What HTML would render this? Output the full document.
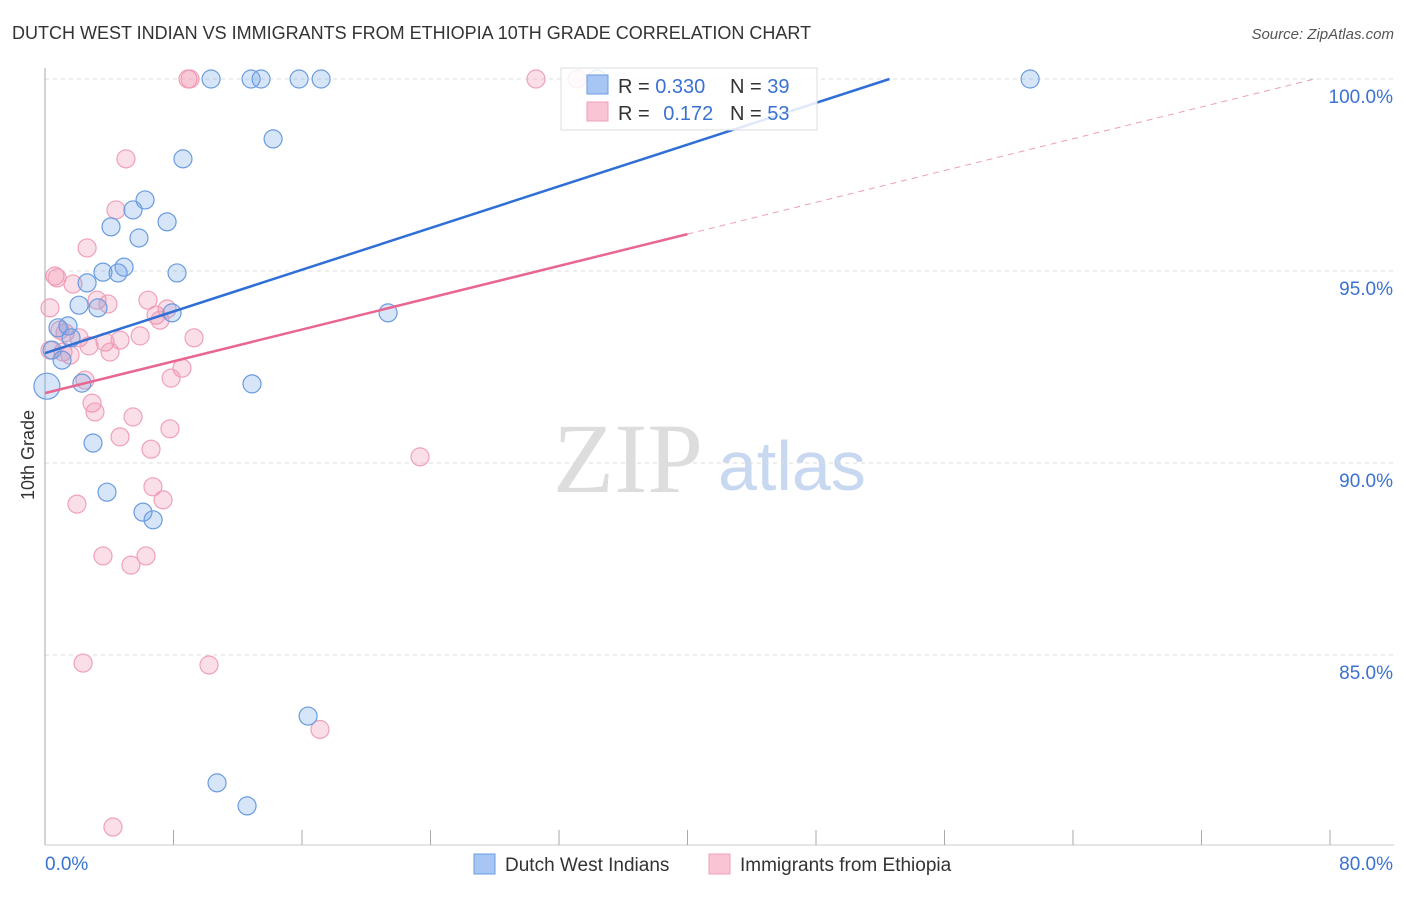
<!DOCTYPE html>
<html><head><meta charset="utf-8"><style>
body{margin:0;background:#fff;font-family:"Liberation Sans",sans-serif}
svg text{font-family:"Liberation Sans",sans-serif}
svg text.serif{font-family:"Liberation Serif",serif}
</style></head><body>
<svg width="1406" height="892" viewBox="0 0 1406 892">
<text x="12" y="39" font-size="18" fill="#333">DUTCH WEST INDIAN VS IMMIGRANTS FROM ETHIOPIA 10TH GRADE CORRELATION CHART</text>
<text x="1394" y="39" font-size="15" fill="#555" text-anchor="end" font-style="italic">Source: ZipAtlas.com</text>
<text class="serif" x="553" y="492" font-size="100" fill="#ddd">ZIP</text>
<text x="718" y="490" font-size="70" fill="#c8d8f0">atlas</text>
<g id="grid"></g>
<g id="axes"></g>
<g id="marks"></g>
<text transform="translate(34,455) rotate(-90)" font-size="18" fill="#333" text-anchor="middle">10th Grade</text>
<g>
<rect x="561" y="68" width="256" height="62" fill="rgba(255,255,255,0.85)" stroke="#ddd"/>
<rect x="587" y="75" width="21" height="19" fill="#a8c6f3" stroke="#6a9be0"/>
<rect x="587" y="102" width="21" height="19" fill="#f9c4d4" stroke="#f0a0b8"/>
<text x="618" y="93" font-size="20" fill="#333">R = <tspan fill="#3a72d0">0.330</tspan></text>
<text x="730" y="93" font-size="20" fill="#333">N = <tspan fill="#3a72d0">39</tspan></text>
<text x="618" y="120" font-size="20" fill="#333">R = <tspan fill="#3a72d0" dx="8">0.172</tspan></text>
<text x="730" y="120" font-size="20" fill="#333">N = <tspan fill="#3a72d0">53</tspan></text>
</g>
<g>
<rect x="474" y="854" width="21" height="20" fill="#a8c6f3" stroke="#6a9be0"/>
<text x="505" y="871" font-size="19" fill="#333">Dutch West Indians</text>
<rect x="709" y="854" width="21" height="20" fill="#f9c4d4" stroke="#f0a0b8"/>
<text x="740" y="871" font-size="19" fill="#333">Immigrants from Ethiopia</text>
</g>
</svg>
<script>
const xTicks=[0,8,16,24,32,40,48,56,64,72,80];
const yTicks=[100,95,90,85];
const yTickLabels=["100.0%","95.0%","90.0%","85.0%"];
const blueX=[10.34,12.83,13.45,15.82,17.19,34.37,61.33,14.20,8.59,6.23,5.48,4.11,7.60,5.85,3.61,4.92,4.55,8.22,2.62,2.12,3.30,7.91,21.36,1.43,0.81,1.62,0.44,1.06,2.30,0.12,12.89,2.99,3.86,6.10,6.73,16.38,10.71,12.58];
const blueY=[100,100,100,100,100,100,100,98.44,97.92,96.85,96.59,96.15,96.28,95.86,94.97,95.10,94.95,94.95,94.69,94.11,94.04,93.91,93.91,93.57,93.52,93.26,92.94,92.68,92.08,92.0,92.06,90.52,89.24,88.72,88.52,83.41,81.67,81.07];
const pinkX=[8.90,9.03,30.57,33.13,5.04,4.42,2.62,0.62,0.75,1.74,0.31,3.24,3.92,6.41,7.60,6.91,7.16,0.93,1.25,2.12,2.74,3.74,4.67,5.92,9.28,1.12,1.56,4.05,0.31,2.49,8.53,7.85,2.93,3.11,5.48,4.67,7.78,6.60,23.35,6.72,7.35,1.99,3.61,5.35,6.29,2.37,10.21,17.12,4.23];
const pinkY=[100,100,100,100,97.92,96.59,95.60,94.87,94.82,94.66,94.04,94.24,94.14,94.24,94.01,93.85,93.72,93.46,93.39,93.26,93.05,93.15,93.20,93.31,93.26,92.89,92.81,92.89,92.94,92.16,92.47,92.21,91.56,91.33,91.20,90.68,90.89,90.36,90.16,89.38,89.04,88.93,87.58,87.34,87.58,84.79,84.74,83.06,80.52];
const blueTrend=[92.86,0.1358];
const pinkTrend=[91.82,0.1035];
const NS='http://www.w3.org/2000/svg';
const X=v=>45+v*(1285/80);
const Y=v=>79+(100-v)*38.4;
function mk(tag,a,parent){const e=document.createElementNS(NS,tag);for(const k in a)e.setAttribute(k,a[k]);document.getElementById(parent).appendChild(e);return e;}
yTicks.forEach((t,i)=>{
 const g=mk('line',{x1:45,x2:1394,y1:Y(t),y2:Y(t),stroke:'#ddd','stroke-dasharray':'4,4'},'grid');
 
 
 const l=mk('text',{x:1393,y:Y(t)+24,'font-size':19,fill:'#3a72d0','text-anchor':'end'},'axes');
 l.textContent=yTickLabels[i];
 
 
});
mk('line',{x1:45,x2:45,y1:68,y2:845,stroke:'#aaa'},'axes');
mk('line',{x1:45,x2:1394,y1:845,y2:845,stroke:'#ccc'},'axes');
xTicks.forEach(t=>{
 const tk=mk('line',{x1:X(t),x2:X(t),y1:830,y2:845,stroke:'#aaa'},'axes');
 
 
});
const x0=mk('text',{x:45,y:870,'font-size':19,fill:'#3a72d0'},'axes');x0.textContent='0.0%';


const x1=mk('text',{x:1393,y:870,'font-size':19,fill:'#3a72d0','text-anchor':'end'},'axes');x1.textContent='80.0%';


pinkX.forEach((v,i)=>{
 const c=mk('circle',{cx:X(v),cy:Y(pinkY[i]),r:9,fill:'rgba(242,140,172,0.28)',stroke:'#f0a0b8','stroke-width':1.2},'marks');
 
 
});
blueX.forEach((v,i)=>{
 const c=mk('circle',{cx:X(v),cy:Y(blueY[i]),r:(v<0.2?13:9),fill:'rgba(110,160,230,0.28)',stroke:'#6a9be0','stroke-width':1.2},'marks');
 
 
});
const bEnd=(100-blueTrend[0])/blueTrend[1];
const bl=mk('line',{x1:X(0),y1:Y(blueTrend[0]),x2:X(bEnd),y2:Y(100),stroke:'#2f6fd6','stroke-width':2.5},'marks');


const pl=mk('line',{x1:X(0),y1:Y(pinkTrend[0]),x2:X(40),y2:Y(pinkTrend[0]+40*pinkTrend[1]),stroke:'#e8668f','stroke-width':2.5},'marks');


const pEnd=(100-pinkTrend[0])/pinkTrend[1];
const pd=mk('line',{x1:X(40),y1:Y(pinkTrend[0]+40*pinkTrend[1]),x2:X(pEnd),y2:Y(100),stroke:'#eaa0b8','stroke-width':1,'stroke-dasharray':'6,5'},'marks');


</script>
</body></html>
